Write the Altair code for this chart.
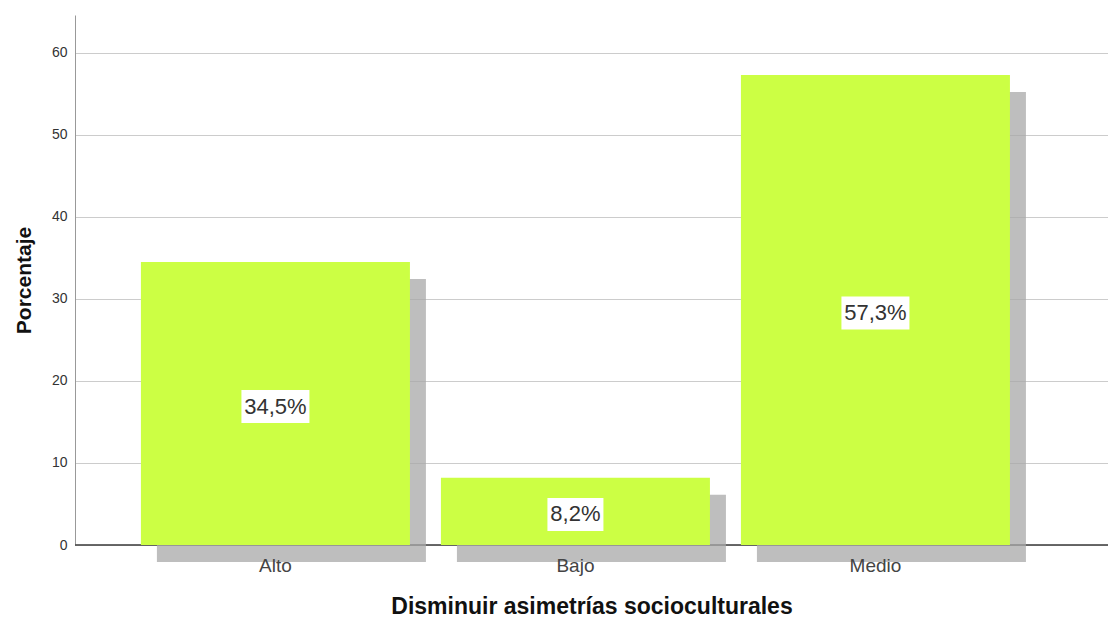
import altair as alt
import pandas as pd

categories = ["Alto", "Bajo", "Medio"]
percentages = [34.5, 8.2, 57.3]
labels = ["34,5%", "8,2%", "57,3%"]
y_ticks = [0, 10, 20, 30, 40, 50, 60]

df = pd.DataFrame({"cat": categories, "pct": percentages, "label": labels})

FONT = "Liberation Sans"
BAR = "#ccff44"
SHADOW = "#a8a8a8"
LABEL_SIZE = 22

X_TITLE = "Disminuir asimetrías socioculturales"
Y_TITLE = "Porcentaje"

xscale = alt.Scale(domain=categories, paddingInner=0.1033, paddingOuter=0.2733, align=0.402)
yscale = alt.Scale(domain=[0, 64.63], nice=False, zero=True)

x_axis = alt.Axis(
    title=X_TITLE, labelAngle=0, ticks=False, domain=False, zindex=1,
    labelFont=FONT, labelFontSize=19, labelColor="#444444", labelPadding=11,
    titleFont=FONT, titleFontSize=23, titleFontWeight="bold", titleColor="#111111",
    titlePadding=20, grid=False,
)
y_axis = alt.Axis(
    title=Y_TITLE, values=y_ticks, ticks=False, grid=True,
    gridColor="#cccccc", gridWidth=1, domainColor="#999999", domainWidth=1,
    labelFont=FONT, labelFontSize=14, labelColor="#333333", labelPadding=8,
    titleFont=FONT, titleFontSize=21, titleFontWeight="bold", titleColor="#111111",
    titlePadding=17,
)


def X():
    return alt.X("cat:N", scale=xscale, sort=categories, axis=x_axis, title=X_TITLE)


def Y(field):
    return alt.Y(field, scale=yscale, axis=y_axis, title=Y_TITLE)


base = alt.Chart(df)

baseline = base.mark_rule(color="#555555", strokeWidth=1).encode(y=alt.datum(0, scale=yscale))

shadow = base.mark_bar(
    color=SHADOW, opacity=0.75, xOffset=16, x2Offset=16, yOffset=17, y2Offset=17
).encode(x=X(), y=Y("pct:Q"))

bars = base.mark_bar(color=BAR).encode(x=X(), y=Y("pct:Q"))

# approximate Arial advance widths (em) for label box sizing
adv = {"%": 0.889, ",": 0.278}
boxes = []
for c, lab in zip(categories, labels):
    tw = sum(adv.get(ch, 0.556) for ch in lab) * LABEL_SIZE
    w = round(tw + 6)
    boxes.append(
        base.transform_filter(alt.datum.cat == c)
        .transform_calculate(lo="datum.pct / 2 - 2.012", hi="datum.pct / 2 + 2.012")
        .mark_bar(color="white", width=w, yOffset=3, y2Offset=3)
        .encode(x=X(), y=Y("lo:Q"), y2="hi:Q")
    )

texts = base.transform_calculate(mid="datum.pct / 2").mark_text(
    font=FONT, fontSize=LABEL_SIZE, color="#333333", baseline="middle", align="center", dy=3
).encode(x=X(), y=Y("mid:Q"), text="label:N")

chart = alt.layer(baseline, shadow, bars, *boxes, texts).properties(
    width=1033, height=530,
    autosize=alt.AutoSizeParams(type="none"),
    padding={"left": 67, "top": 7, "right": 0, "bottom": 74},
).configure(background="white").configure_view(stroke=None)

chart.save("out.html", embed_options={"renderer": "svg", "actions": False})
